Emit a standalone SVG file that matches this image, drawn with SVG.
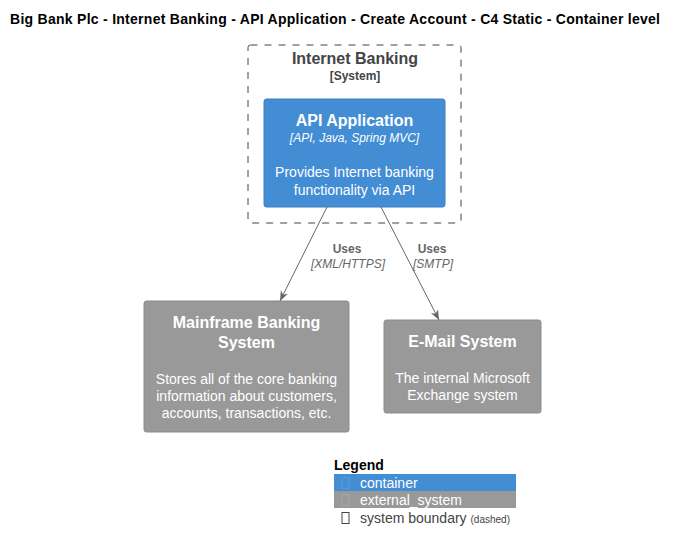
<svg xmlns="http://www.w3.org/2000/svg" width="677" height="552" viewBox="0 0 677 552">
<defs>
<style>
text{font-family:"Liberation Sans",Arial,sans-serif}
.title{font-size:14px;font-weight:bold;fill:#000}
.nt{font-size:16px;font-weight:bold;fill:#fff;text-anchor:middle}
.tech{font-size:12px;font-style:italic;fill:#fff;text-anchor:middle}
.desc{font-size:14px;fill:#fff;text-anchor:middle}
.lbl{font-size:12px;font-weight:bold;fill:#666;text-anchor:middle}
.ltech{font-size:12px;font-style:italic;fill:#666;text-anchor:middle}
.cont{fill:#438DD5;stroke:#3C7FC0;stroke-width:1}
.ext{fill:#999999;stroke:#8A8A8A;stroke-width:1}
.edge{stroke:#666;stroke-width:1;fill:none}
.lg{font-size:14px}
.gbox{fill:none;stroke-width:1}
</style>
<marker id="ah" viewBox="0 0 10 10" refX="10" refY="5" markerWidth="10" markerHeight="10" markerUnits="userSpaceOnUse" orient="auto">
<path d="M0,1 L10,5 L0,9 L3,5 Z" fill="#666"/>
</marker>
</defs>
<rect width="677" height="552" fill="#fff"/>
<text class="title" x="10" y="24" textLength="650" lengthAdjust="spacing">Big Bank Plc - Internet Banking - API Application - Create Account - C4 Static - Container level</text>

<g id="boundary-internet-banking">
<rect x="248" y="45" width="213" height="178" rx="2.5" fill="none" stroke="#444" stroke-width="1" stroke-dasharray="7,7"/>
<text x="355" y="64" text-anchor="middle" font-size="16" font-weight="bold" fill="#444">Internet Banking</text>
<text x="355" y="80" text-anchor="middle" font-size="12" font-weight="bold" fill="#444">[System]</text>
</g>

<g id="api-application">
<rect class="cont" x="264" y="99" width="181" height="108" rx="2.5"/>
<text class="nt" x="354.5" y="126">API Application</text>
<text class="tech" x="354.5" y="142">[API, Java, Spring MVC]</text>
<text class="desc" x="354.5" y="177">Provides Internet banking</text>
<text class="desc" x="354.5" y="195">functionality via API</text>
</g>

<g id="mainframe">
<rect class="ext" x="144" y="301" width="205" height="131" rx="2.5"/>
<text class="nt" x="246.5" y="328">Mainframe Banking</text>
<text class="nt" x="246.5" y="348">System</text>
<text class="desc" x="246.5" y="384">Stores all of the core banking</text>
<text class="desc" x="246.5" y="401">information about customers,</text>
<text class="desc" x="246.5" y="418">accounts, transactions, etc.</text>
</g>

<g id="email-system">
<rect class="ext" x="384" y="320" width="157" height="93" rx="2.5"/>
<text class="nt" x="462.5" y="347">E-Mail System</text>
<text class="desc" x="462.5" y="383">The internal Microsoft</text>
<text class="desc" x="462.5" y="400">Exchange system</text>
</g>

<g id="connectors">
<line class="edge" x1="327" y1="207" x2="280" y2="301" marker-end="url(#ah)"/>
<text class="lbl" x="347" y="253">Uses</text>
<text class="ltech" x="348" y="268">[XML/HTTPS]</text>
<line class="edge" x1="381" y1="207" x2="439" y2="320" marker-end="url(#ah)"/>
<text class="lbl" x="432" y="253">Uses</text>
<text class="ltech" x="433" y="268">[SMTP]</text>
</g>

<g id="legend">
<text x="334" y="470" font-size="14" font-weight="bold" fill="#000">Legend</text>
<rect x="334" y="474" width="182" height="17" fill="#438DD5"/>
<rect class="gbox" x="342" y="477.5" width="7" height="11" stroke="#5a9ad8"/>
<text class="lg" x="360" y="488" fill="#fff">container</text>
<rect x="334" y="491" width="182" height="17" fill="#999999"/>
<rect class="gbox" x="342" y="494.5" width="7" height="11" stroke="#a6a6a6"/>
<text class="lg" x="360" y="505" fill="#fff">external_system</text>
<rect class="gbox" x="342" y="512.5" width="7" height="11" stroke="#444"/>
<text class="lg" x="360" y="523" fill="#444">system boundary <tspan font-size="10">(dashed)</tspan></text>
</g>
</svg>
